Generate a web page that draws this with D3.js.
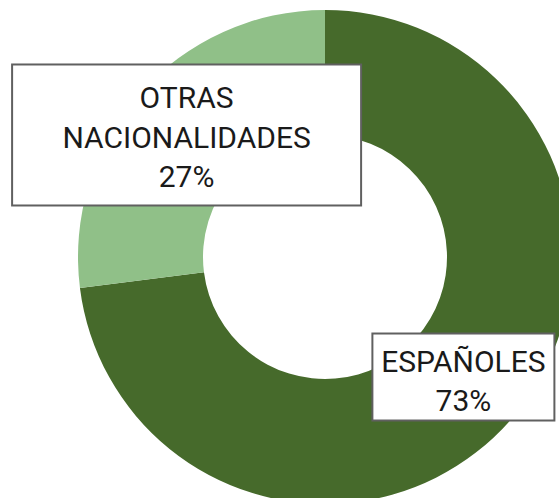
<!DOCTYPE html>
<html>
<head>
<meta charset="utf-8">
<script src="https://cdn.jsdelivr.net/npm/d3@7"></script>
<style>
  html, body { margin: 0; padding: 0; background: #fff; }
  svg { display: block; }
</style>
</head>
<body>
<div id="chart"></div>
<script>
// Data
const categories = ["ESPAÑOLES", "OTRAS NACIONALIDADES"];
const values = [73, 27];
const labelLines = [["ESPAÑOLES", "73%"], ["OTRAS", "NACIONALIDADES", "27%"]];
const colors = ["#466a2b", "#90c088"];

// Layout
const width = 559;
const height = 498;
const cx = 325, cy = 257;
const outerR = 247, innerR = 122;

// Label box sizes (Excel-style data label boxes)
const boxSize = [{ w: 182, h: 87, dy: -2 }, { w: 349, h: 141, dy: 0 }];
const fontSize = 30;
const lineH = 39.5;

const svg = d3
  .select("#chart")
  .append("svg")
  .attr("width", width)
  .attr("height", height);

const g = svg.append("g").attr("transform", `translate(${cx},${cy})`);

const pie = d3.pie().sort(null).value((d) => d.value);
const arc = d3.arc().innerRadius(innerR).outerRadius(outerR);

const pieData = pie(categories.map((c, i) => ({ name: c, value: values[i] })));

g.selectAll("path.slice")
  .data(pieData)
  .enter()
  .append("path")
  .attr("class", "slice")
  .attr("d", arc)
  .attr("fill", (d, i) => colors[i]);

// Labels centred on arc centroids
const labels = g
  .selectAll("g.label")
  .data(pieData)
  .enter()
  .append("g")
  .attr("class", "label")
  .attr("transform", (d) => {
    const [x, y] = arc.centroid(d);
    return `translate(${x},${y})`;
  });

labels
  .append("rect")
  .attr("x", (d, i) => -boxSize[i].w / 2)
  .attr("y", (d, i) => -boxSize[i].h / 2 + boxSize[i].dy)
  .attr("width", (d, i) => boxSize[i].w)
  .attr("height", (d, i) => boxSize[i].h)
  .attr("fill", "#fff")
  .attr("stroke", "#606060")
  .attr("stroke-width", 2);

labels.each(function (d, i) {
  const lines = labelLines[i];
  const text = d3
    .select(this)
    .append("text")
    .attr("text-anchor", "middle")
    .attr("font-family", "Roboto, sans-serif")
    .attr("font-size", fontSize)
    .attr("fill", "#1a1a1a");
  lines.forEach((line, j) => {
    text
      .append("tspan")
      .attr("x", 0)
      .attr("y", (j - (lines.length - 1) / 2) * lineH + fontSize * 0.711 / 2 + 2)
      .text(line);
  });
});
</script>
</body>
</html>
